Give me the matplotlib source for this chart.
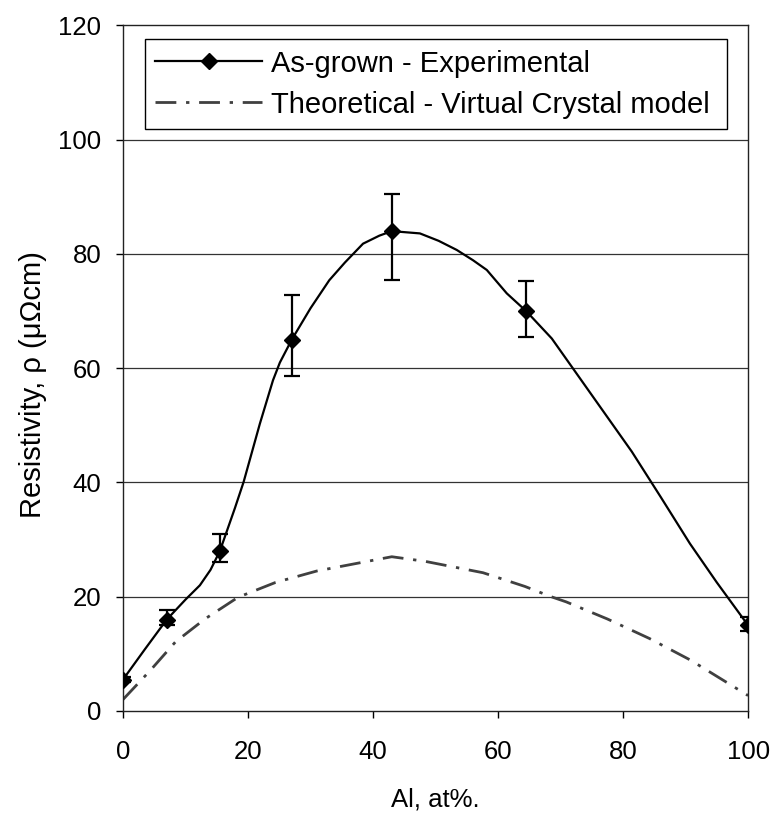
import matplotlib
matplotlib.use("Agg")
import matplotlib.pyplot as plt
from matplotlib.legend_handler import HandlerTuple

plt.rcParams["font.family"] = ["Liberation Sans", "DejaVu Sans"]

# measured resistivity of the as-grown films
al_exp = [0, 7, 15.5, 27, 43, 64.5, 100]
rho_exp = [5.5, 16, 28, 65, 84, 70, 15]
err_low = [0.5, 1.0, 2.0, 6.3, 8.5, 4.6, 1.0]
err_high = [0.5, 1.6, 3.0, 7.8, 6.5, 5.2, 1.4]

# smoothed trend through the measurements
al_trend = [0, 3.5, 7, 10, 12.3, 14, 15.5, 17.9, 19.3, 21.9, 24, 25.1, 27,
            30, 33, 35.5, 38.4, 41, 43, 47.5, 50.5, 53.4, 56, 58.2, 61.4,
            64.5, 68.6, 75, 81.4, 86, 90.7, 95, 100]
rho_trend = [5.5, 10.8, 16, 19.5, 22.0, 24.7, 28, 35.5, 40.1, 50.3, 57.9, 61,
             65, 70.5, 75.4, 78.5, 81.8, 83.2, 84, 83.6, 82.3, 80.7, 78.9,
             77.2, 73.1, 70, 65.2, 55.3, 45.4, 37.5, 29.3, 22.5, 15]

# virtual crystal approximation
al_vca = [0, 4.45, 8.4, 13.1, 18.4, 24.4, 31, 37.7, 43, 48.3, 57.6, 64.3,
          68.5, 70.9, 77.5, 84.2, 90.8, 100]
rho_vca = [2.0, 7.2, 12.1, 16.1, 19.9, 22.5, 24.5, 25.9, 27.0, 26.2, 24.2,
           21.8, 20.0, 19.1, 16.1, 12.7, 8.9, 2.7]

x_ticks = [0, 20, 40, 60, 80, 100]
y_ticks = [0, 20, 40, 60, 80, 100, 120]

fig = plt.figure(figsize=(7.76, 8.19), dpi=100)
ax = fig.add_axes([0.1585, 0.1319, 0.8055, 0.837])

for y in y_ticks[1:-1]:
    ax.axhline(y, color="#333333", lw=0.9, zorder=0)

vca_line, = ax.plot(al_vca, rho_vca, color="#404040", lw=2.0,
                    dashes=(7.5, 3.5, 1.2, 3.5), zorder=2)
trend_line, = ax.plot(al_trend, rho_trend, color="black", lw=1.6, zorder=3)
ax.errorbar(al_exp, rho_exp, yerr=[err_low, err_high], fmt="none",
            ecolor="black", elinewidth=1.6, capsize=6, capthick=1.6, zorder=3)
pts, = ax.plot(al_exp, rho_exp, "D", color="black", ms=8, zorder=4)

ax.set_xlim(0, 100)
ax.set_ylim(0, 120)
ax.set_xticks(x_ticks)
ax.set_yticks(y_ticks)
ax.tick_params(direction="out", length=5, width=1, labelsize=18.5, pad=10.5)
ax.tick_params(axis="x", pad=16)
for s in ax.spines.values():
    s.set_linewidth(1.0)
    s.set_color("#222222")

ax.set_xlabel("Al, at%.", fontsize=18.5, labelpad=17)
ax.set_ylabel("Resistivity, ρ (μΩcm)", fontsize=21)
ax.yaxis.set_label_coords(-0.122, 0.476)

leg = ax.legend([(trend_line, pts), vca_line],
                ["As-grown - Experimental", "Theoretical - Virtual Crystal model"],
                handler_map={tuple: HandlerTuple(ndivide=1, pad=0)},
                loc="upper left", bbox_to_anchor=(0.0352, 0.980, 0.931, 0),
                mode="expand", borderaxespad=0, fontsize=21, numpoints=1,
                handlelength=3.65, handletextpad=0.3, borderpad=0.36,
                labelspacing=0.44, fancybox=False, framealpha=1,
                edgecolor="black")
leg.get_frame().set_linewidth(1.0)

fig.savefig("out.png", dpi=100)
